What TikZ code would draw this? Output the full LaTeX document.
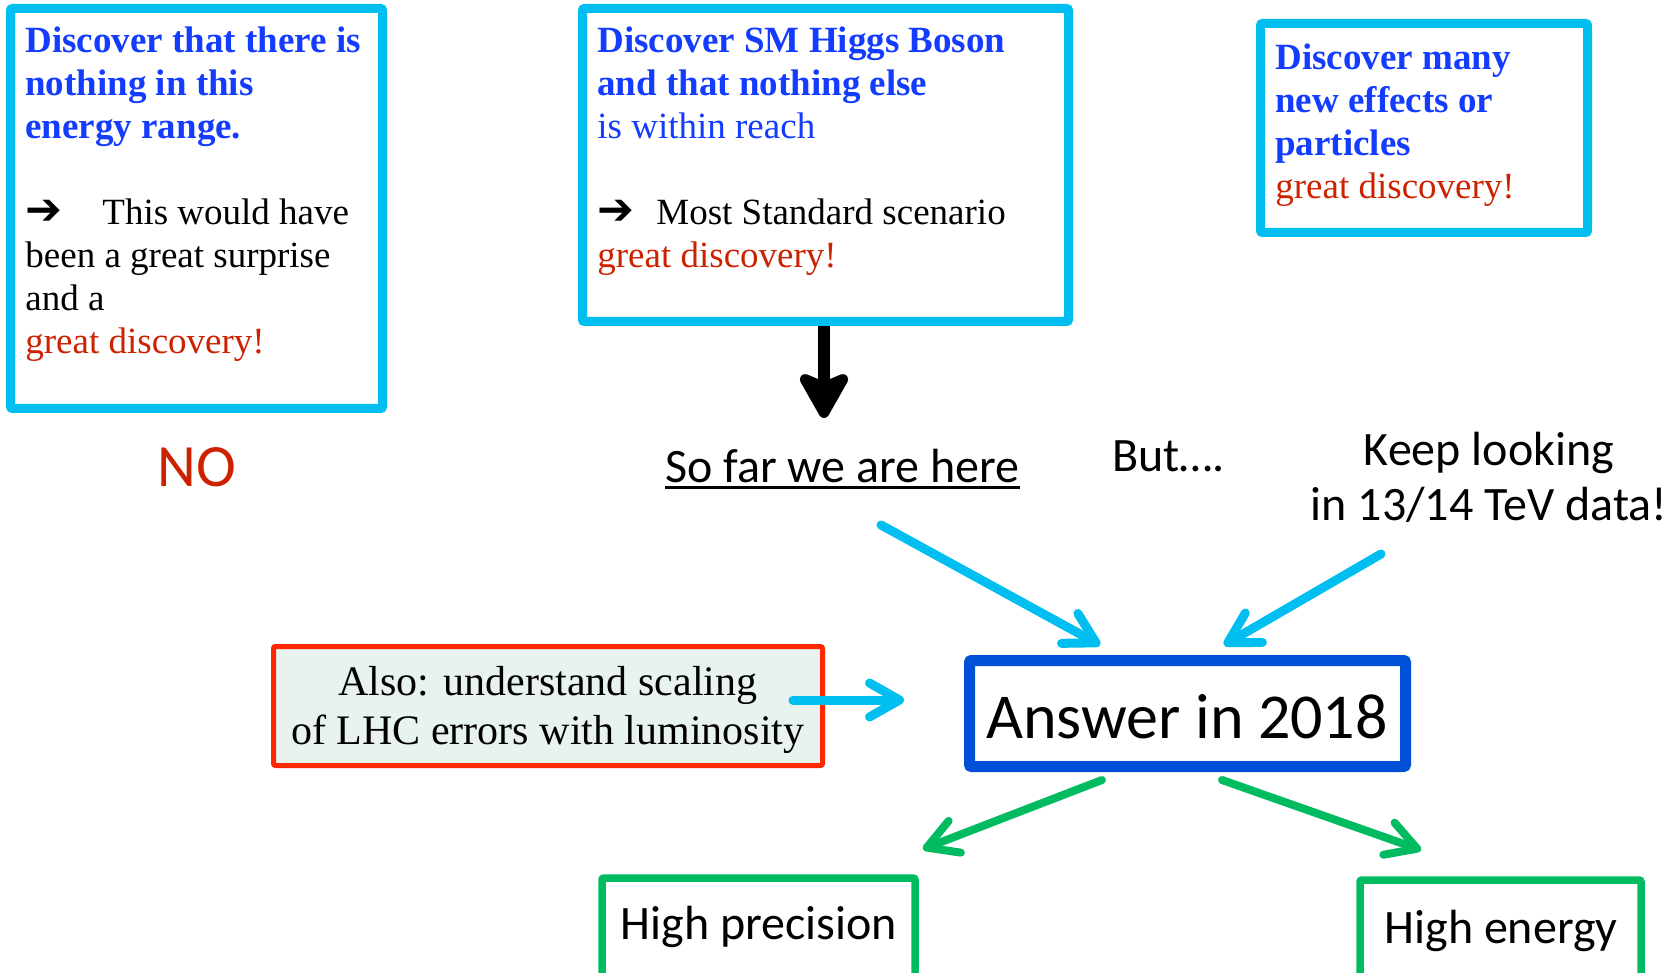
\documentclass[tikz,border=0pt]{standalone}
\usepackage{fontspec}
\setmainfont{Liberation Serif}
\newfontfamily\calibri{Carlito}
\newfontfamily\symfont{DejaVu Sans}
\usetikzlibrary{arrows.meta}

\definecolor{skyline}{RGB}{0,191,240}
\definecolor{headblue}{RGB}{20,60,255}
\definecolor{hotred}{RGB}{204,34,0}
\definecolor{framered}{RGB}{255,40,0}
\definecolor{mintfill}{RGB}{232,242,238}
\definecolor{deepblue}{RGB}{0,80,215}
\definecolor{leafgreen}{RGB}{0,187,96}

\tikzset{
  framebox/.style={draw=skyline, line width=4.5pt, rounded corners=1pt, fill=white, inner sep=0pt},
  serifbody/.style={anchor=base west, inner sep=0pt, align=flush left,
    font=\fontsize{18.5}{21.5}\selectfont},
  sanslabel/.style={inner sep=0pt, font=\calibri\fontsize{24}{27.5}\selectfont},
  skyarrow/.style={draw=skyline, line width=4.5pt, line cap=round,
    -{Straight Barb[length=15pt, width=17pt, round]}},
  greenarrow/.style={draw=leafgreen, line width=4pt, line cap=round,
    -{Straight Barb[length=15pt, width=17pt, round]}},
  blackarrow/.style={draw=black, line width=6pt,
    -{Stealth[length=27pt, width=30pt, inset=6pt, round]}},
  greenbox/.style={draw=leafgreen, line width=3.75pt, rounded corners=1pt, inner sep=0pt}
}
\newcommand{\bigarrow}[1]{\makebox[#1][l]{\symfont\fontsize{22}{22}\selectfont ➔}}

\begin{document}
\begin{tikzpicture}[x=0.5pt, y=-0.5pt]
\useasboundingbox (0,0) rectangle (1672,973);
\clip (0,0) rectangle (1672,973);

% three scenario boxes along the top
\node[framebox, minimum width=186pt, minimum height=200pt] (box1) at (196.5,208.5) {};
\node[framebox, minimum width=243pt, minimum height=156.5pt] (box2) at (825.5,165) {};
\node[framebox, minimum width=163.5pt, minimum height=104.5pt] (box3) at (1424,128) {};

\node[serifbody, text width=176pt] (t1) at (25,53) {%
  {\color{headblue}\bfseries Discover that there is\\ nothing in this\\ energy range.}\\[21.5pt]
  \bigarrow{38.5pt}This would have\\ been a great surprise\\ and a\\
  {\color{hotred}great discovery!}};

\node[serifbody, text width=232pt] (t2) at (597,53) {%
  {\color{headblue}\bfseries Discover SM Higgs Boson\\ and that nothing else}\\
  {\color{headblue}is within reach}\\[21.5pt]
  \bigarrow{29.5pt}Most Standard scenario\\
  {\color{hotred}great discovery!}};

\node[serifbody, text width=154pt] (t3) at (1275,70) {%
  {\color{headblue}\bfseries Discover many\\ new effects or\\ particles}\\
  {\color{hotred}great discovery!}};

% free-standing labels
\node[sanslabel, anchor=base, text=hotred, font=\calibri\fontsize{30}{30}\selectfont] (no) at (197,487) {NO};
\node[sanslabel, anchor=base west] (sofar) at (665,482) {So far we are here};
\draw[line width=1.5pt] ([yshift=-2.5pt]sofar.base west) -- ([yshift=-2.5pt]sofar.base east);
\node[sanslabel, anchor=base west] (but) at (1112,472) {But….};
\node[sanslabel, anchor=base, align=flush center, text width=200pt] (keep) at (1489,466) {Keep looking\\ in 13/14 TeV data!};

% side remark box
\node[draw=framered, fill=mintfill, line width=2.5pt, rounded corners=1pt,
      minimum width=274.5pt, minimum height=59.5pt, inner sep=0pt] (lhc) at (548,706) {};
\node[inner sep=0pt, anchor=base, align=flush center, text width=270pt,
      font=\fontsize{21}{24.5}\selectfont] (lhctext) at (548,695)
  {Also: understand scaling\\ of LHC errors with luminosity};

% central answer box
\node[draw=deepblue, line width=5.5pt, rounded corners=1pt, fill=white,
      minimum width=218pt, minimum height=53pt, inner sep=0pt] (answer) at (1187.5,713.5) {};
\node[inner sep=0pt, anchor=base, font=\calibri\fontsize{32}{32}\selectfont] (answertext) at (1187,738) {Answer in 2018};

% outcome boxes at the bottom
\node[greenbox, minimum width=156.5pt, minimum height=53.5pt] (prec) at (758.5,931.5) {};
\node[sanslabel, anchor=base] (prectext) at (759,939) {High precision};
\node[greenbox, minimum width=140.5pt, minimum height=52.5pt] (energy) at (1500.5,932.5) {};
\node[sanslabel, anchor=base] (energytext) at (1501,943) {High energy};

% arrow end points
\coordinate (downtip) at (824,418);
\coordinate (s1) at (881,525);
\coordinate (e1) at (1100,645);
\coordinate (s2) at (1381,554);
\coordinate (e2) at (1224,645);
\coordinate (s3) at (793,700);
\coordinate (e3) at (904,700);
\coordinate (g1s) at (1102,780);
\coordinate (g1e) at (923,849);
\coordinate (g2s) at (1222,780);
\coordinate (g2e) at (1421,850);

\draw[blackarrow] (box2.south -| downtip) -- (downtip);
\draw[skyarrow] (s1) -- (e1);
\draw[skyarrow] (s2) -- (e2);
\draw[skyarrow] (s3) -- (e3);
\draw[greenarrow] (g1s) -- (g1e);
\draw[greenarrow] (g2s) -- (g2e);
\end{tikzpicture}
\end{document}
